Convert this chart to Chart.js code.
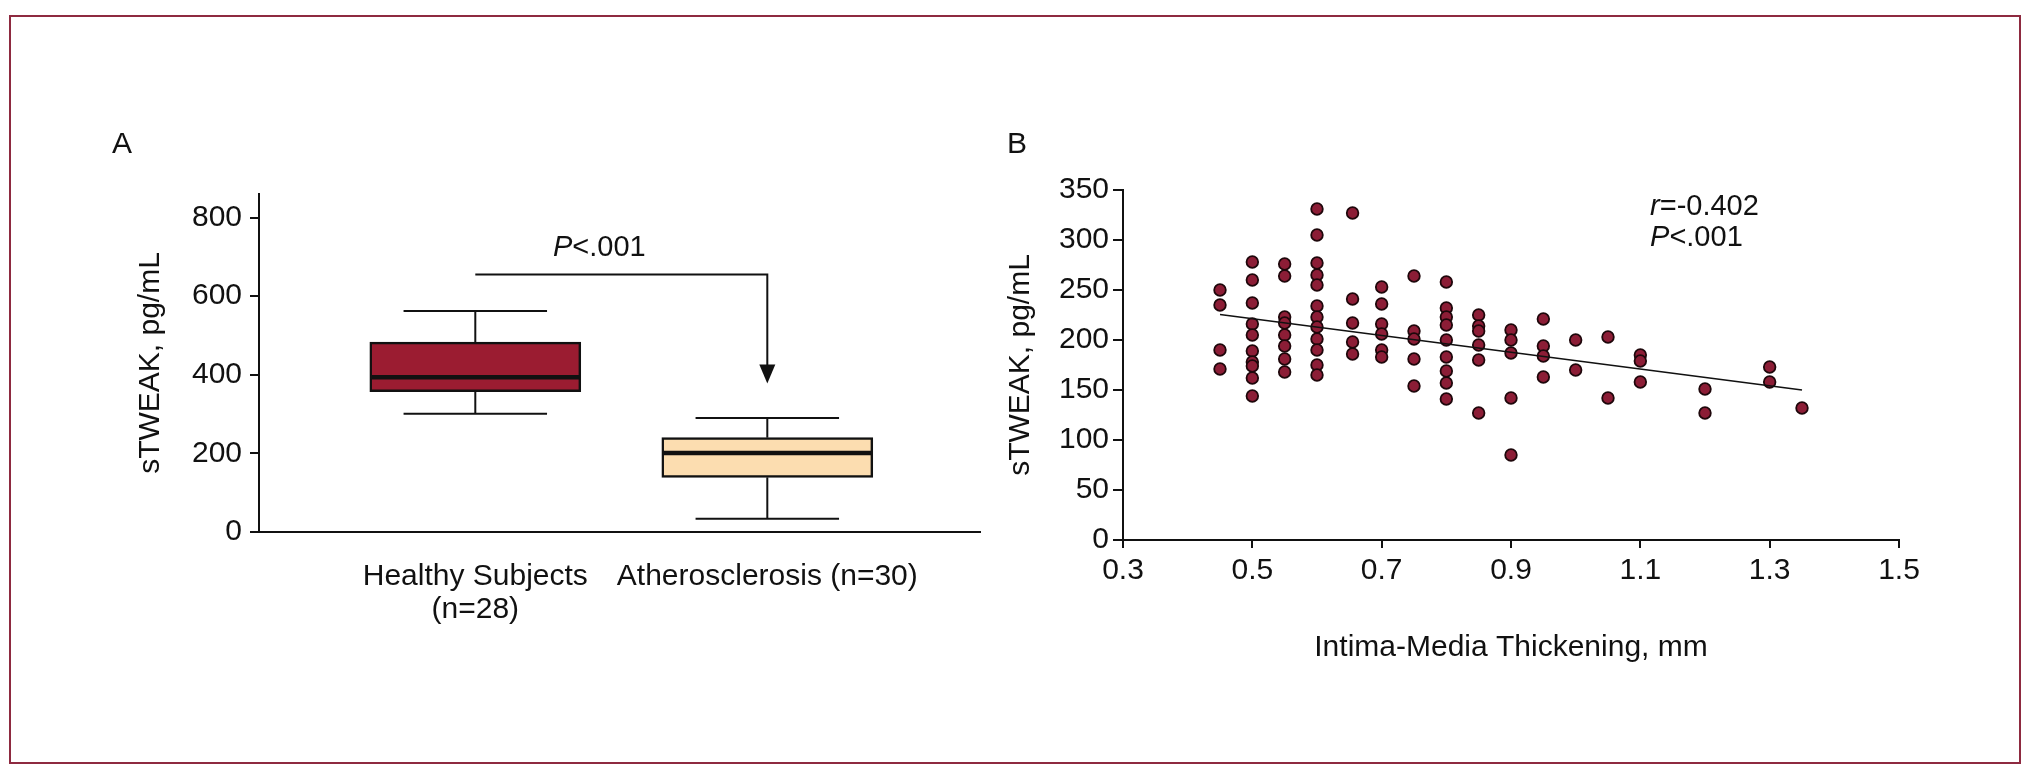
<!DOCTYPE html>
<html lang="en">
<head>
<meta charset="UTF-8">
<title>sTWEAK and atherosclerosis</title>
<script src="https://cdn.jsdelivr.net/npm/chart.js@4"></script>
<style>
  html, body { margin: 0; padding: 0; background: #fff; }
  body { width: 2033px; height: 779px; position: relative; overflow: hidden; }
  .frame { position: absolute; left: 9px; top: 15px; width: 2008px; height: 745px; border: 2px solid #8e2a40; }
  #chartA { position: absolute; left: 0; top: 0; width: 1000px; height: 779px; }
  #chartB { position: absolute; left: 1000px; top: 0; width: 1033px; height: 779px; }
</style>
</head>
<body>
<div class="frame"></div>
<canvas id="chartA" width="1000" height="779"></canvas>
<canvas id="chartB" width="1033" height="779"></canvas>
<script>
// panel A - box plots
const groupLabels = [['Healthy Subjects', '(n=28)'], ['Atherosclerosis (n=30)']];
const groupPos = [0.3, 0.705];
const whiskerLow = [301, 34];
const q1 = [357, 139];
const median = [394, 201];
const q3 = [483, 240];
const whiskerHigh = [562, 290];
const boxColors = ['#9b1c31', '#fcddb0'];
const yTicksA = [0, 200, 400, 600, 800];
const bracketLevel = 655;
const arrowTip = 378;

// panel B - scatter, one array of sTWEAK values per IMT level
const imtLevels = [0.45, 0.5, 0.55, 0.6, 0.655, 0.7, 0.75, 0.8, 0.85, 0.9, 0.95, 1.0, 1.05, 1.1, 1.2, 1.3, 1.35];
const tweakByLevel = [
  [250, 235, 190, 171],
  [278, 260, 237, 216, 205, 189, 178, 174, 162, 144],
  [276, 264, 223, 217, 205, 194, 181, 168],
  [331, 305, 277, 265, 255, 234, 223, 213, 201, 190, 175, 165],
  [327, 241, 217, 198, 186],
  [253, 236, 216, 206, 190, 183],
  [264, 209, 201, 181, 154],
  [258, 232, 223, 215, 200, 183, 169, 157, 141],
  [225, 214, 209, 195, 180, 127],
  [210, 200, 187, 142, 85],
  [221, 194, 184, 163],
  [200, 170],
  [203, 142],
  [185, 179, 158],
  [151, 127],
  [173, 158],
  [132]
];
const fitX = [0.45, 1.35];
const fitY = [225.5, 150];
const xTicksB = [0.3, 0.5, 0.7, 0.9, 1.1, 1.3, 1.5];
const yTicksB = [0, 50, 100, 150, 200, 250, 300, 350];
const statLines = [['r', '=-0.402'], ['P', '<.001']];

const FAMILY = "'Liberation Sans', Arial, sans-serif";
const INK = '#111';
Chart.defaults.font.family = FAMILY;
Chart.defaults.font.size = 30;
Chart.defaults.color = INK;

function seg(ctx, x1, y1, x2, y2) {
  ctx.beginPath(); ctx.moveTo(x1, y1); ctx.lineTo(x2, y2); ctx.stroke();
}

// italic letter followed by plain text, e.g. "P<.001"
function mixedText(ctx, x, y, it, rest, size, align) {
  ctx.font = 'italic ' + size + 'px ' + FAMILY;
  const w1 = ctx.measureText(it).width;
  ctx.font = size + 'px ' + FAMILY;
  const w2 = ctx.measureText(rest).width;
  const x0 = align === 'center' ? x - (w1 + w2) / 2 : x;
  ctx.textAlign = 'left';
  ctx.font = 'italic ' + size + 'px ' + FAMILY;
  ctx.fillText(it, x0, y);
  ctx.font = size + 'px ' + FAMILY;
  ctx.fillText(rest, x0 + w1, y);
}

const boxExtras = {
  id: 'boxExtras',
  afterDatasetsDraw(chart) {
    const { ctx, scales: { x, y } } = chart;
    const bars = chart.getDatasetMeta(0).data;
    ctx.save();
    ctx.strokeStyle = INK;
    ctx.fillStyle = INK;
    groupPos.forEach((p, i) => {
      const cx = x.getPixelForValue(p);
      const half = bars[i].width / 2;
      const cap = half * 0.68;
      ctx.lineWidth = 2;
      const yHi = y.getPixelForValue(whiskerHigh[i]);
      const yLo = y.getPixelForValue(whiskerLow[i]);
      seg(ctx, cx, y.getPixelForValue(q3[i]), cx, yHi);
      seg(ctx, cx, y.getPixelForValue(q1[i]), cx, yLo);
      seg(ctx, cx - cap, yHi, cx + cap, yHi);
      seg(ctx, cx - cap, yLo, cx + cap, yLo);
      ctx.lineWidth = 4.5;
      const ym = y.getPixelForValue(median[i]);
      seg(ctx, cx - half + 1, ym, cx + half - 1, ym);
    });
    // significance bracket with arrow
    const xa = x.getPixelForValue(groupPos[0]);
    const xb = x.getPixelForValue(groupPos[1]);
    const yb = y.getPixelForValue(bracketLevel);
    const yt = y.getPixelForValue(arrowTip);
    ctx.lineWidth = 2;
    ctx.beginPath(); ctx.moveTo(xa, yb); ctx.lineTo(xb, yb); ctx.lineTo(xb, yt - 18); ctx.stroke();
    ctx.beginPath(); ctx.moveTo(xb - 8, yt - 19); ctx.lineTo(xb + 8, yt - 19); ctx.lineTo(xb, yt); ctx.closePath(); ctx.fill();
    ctx.textBaseline = 'alphabetic';
    mixedText(ctx, x.getPixelForValue(0.472), y.getPixelForValue(701), 'P', '<.001', 29, 'center');
    ctx.font = '30px ' + FAMILY;
    ctx.textAlign = 'left';
    ctx.fillText('A', 112, 153);
    ctx.restore();
  }
};

const statText = {
  id: 'statText',
  afterDatasetsDraw(chart) {
    const { ctx, scales: { x, y } } = chart;
    ctx.save();
    ctx.fillStyle = INK;
    ctx.textBaseline = 'middle';
    const x0 = x.getPixelForValue(1.115);
    mixedText(ctx, x0, y.getPixelForValue(333), statLines[0][0], statLines[0][1], 29, 'left');
    mixedText(ctx, x0, y.getPixelForValue(302), statLines[1][0], statLines[1][1], 29, 'left');
    ctx.textBaseline = 'alphabetic';
    ctx.font = '30px ' + FAMILY;
    ctx.fillText('B', 7, 153);
    ctx.restore();
  }
};

new Chart(document.getElementById('chartA'), {
  type: 'bar',
  data: {
    datasets: [{
      data: groupPos.map((p, i) => ({ x: p, y: [q1[i], q3[i]] })),
      backgroundColor: boxColors,
      borderColor: INK,
      borderWidth: 2.5,
      borderSkipped: false,
      barThickness: 211
    }]
  },
  options: {
    responsive: false,
    animation: false,
    layout: { padding: { left: 0, top: 194, right: 20, bottom: 0 } },
    plugins: { legend: { display: false }, tooltip: { enabled: false } },
    scales: {
      x: {
        type: 'linear', min: 0, max: 1, offset: false,
        afterFit: s => { s.height = 247; },
        afterBuildTicks: s => { s.ticks = groupPos.map(v => ({ value: v })); },
        ticks: { callback: (v, i) => groupLabels[i], padding: 20, maxRotation: 0, autoSkip: false,
                 font: { size: 30, lineHeight: 1.1 } },
        grid: { display: false },
        border: { display: true, color: INK, width: 2 }
      },
      y: {
        min: 0, max: 860,
        afterFit: s => { s.width = 259; },
        afterBuildTicks: s => { s.ticks = yTicksA.map(v => ({ value: v })); },
        ticks: { padding: 8 },
        grid: { drawOnChartArea: false, tickLength: 9, color: INK, lineWidth: 2 },
        border: { display: true, color: INK, width: 2 },
        title: { display: true, text: 'sTWEAK, pg/mL', padding: { top: 133, bottom: 0 } }
      }
    }
  },
  plugins: [boxExtras]
});

const points = [];
imtLevels.forEach((lv, i) => tweakByLevel[i].forEach(v => points.push({ x: lv, y: v })));

new Chart(document.getElementById('chartB'), {
  type: 'scatter',
  data: {
    datasets: [
      { type: 'line', data: fitX.map((v, i) => ({ x: v, y: fitY[i] })), borderColor: INK, borderWidth: 1.6,
        pointRadius: 0, fill: false },
      { data: points, backgroundColor: '#8c1d36', borderColor: '#1e070b', borderWidth: 1.8, pointRadius: 5.8 }
    ]
  },
  options: {
    responsive: false,
    animation: false,
    layout: { padding: { left: 0, top: 190, right: 134, bottom: 0 } },
    plugins: { legend: { display: false }, tooltip: { enabled: false } },
    scales: {
      x: {
        type: 'linear', min: 0.3, max: 1.5,
        afterFit: s => { s.height = 239; },
        afterBuildTicks: s => { s.ticks = xTicksB.map(v => ({ value: v })); },
        ticks: { callback: v => v.toFixed(1), padding: 5, maxRotation: 0, autoSkip: false },
        grid: { drawOnChartArea: false, tickLength: 8, color: INK, lineWidth: 2 },
        border: { display: true, color: INK, width: 2 },
        title: { display: true, text: 'Intima-Media Thickening, mm', padding: { top: 0, bottom: 113 } }
      },
      y: {
        min: 0, max: 350,
        afterFit: s => { s.width = 123; },
        afterBuildTicks: s => { s.ticks = yTicksB.map(v => ({ value: v })); },
        ticks: { padding: 4 },
        grid: { drawOnChartArea: false, tickLength: 10, color: INK, lineWidth: 2 },
        border: { display: true, color: INK, width: 2 },
        title: { display: true, text: 'sTWEAK, pg/mL', padding: { top: 3, bottom: 0 } }
      }
    }
  },
  plugins: [statText]
});
</script>
</body>
</html>
